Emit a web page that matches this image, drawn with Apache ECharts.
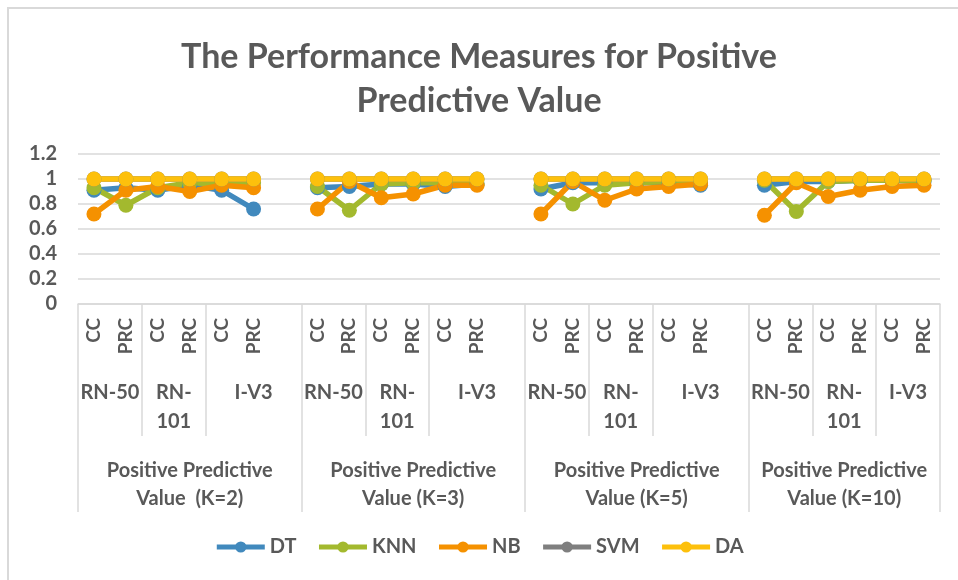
<!DOCTYPE html>
<html>
<head>
<meta charset="utf-8">
<script src="https://cdn.jsdelivr.net/npm/echarts@6/dist/echarts.min.js"></script>
<style>
  html, body { margin: 0; padding: 0; background: #fff; }
  #frame { position: absolute; left: 7px; top: 7px; width: 951px; height: 573px;
           border-left: 2px solid #d9d9d9; border-top: 2px solid #d9d9d9; }
  #chart { position: absolute; left: 0; top: 0; width: 958px; height: 580px; }
</style>
</head>
<body>
<div id="frame"></div>
<div id="chart"></div>
<script>
// bottom level: metric per slot, '' is the empty gap slot after each K block
var metrics = ['CC', 'PRC', 'CC', 'PRC', 'CC', 'PRC', '',
               'CC', 'PRC', 'CC', 'PRC', 'CC', 'PRC', '',
               'CC', 'PRC', 'CC', 'PRC', 'CC', 'PRC', '',
               'CC', 'PRC', 'CC', 'PRC', 'CC', 'PRC'];
// middle level: model spans [start, end] in slot index
var models = [
  ['RN-50', 0, 1], ['RN-\n101', 2, 3], ['I-V3', 4, 6],
  ['RN-50', 7, 8], ['RN-\n101', 9, 10], ['I-V3', 11, 13],
  ['RN-50', 14, 15], ['RN-\n101', 16, 17], ['I-V3', 18, 20],
  ['RN-50', 21, 22], ['RN-\n101', 23, 24], ['I-V3', 25, 26]
];
// top level: K blocks
var groups = [
  ['Positive Predictive\nValue  (K=2)', 0, 6],
  ['Positive Predictive\nValue (K=3)', 7, 13],
  ['Positive Predictive\nValue (K=5)', 14, 20],
  ['Positive Predictive\nValue (K=10)', 21, 26]
];

var dt  = [0.91, 0.93, 0.91, 0.95, 0.91, 0.76, null,
           0.93, 0.94, 0.96, 0.96, 0.94, 0.96, null,
           0.92, 0.97, 0.97, 0.97, 0.97, 0.95, null,
           0.95, 0.98, 0.98, 0.99, 0.99, 0.98];
var knn = [0.93, 0.79, 0.93, 0.97, 0.96, 0.97, null,
           0.94, 0.75, 0.96, 0.97, 0.97, 0.96, null,
           0.95, 0.80, 0.95, 0.97, 0.98, 0.97, null,
           0.99, 0.74, 0.98, 0.99, 0.99, 0.99];
var nb  = [0.72, 0.91, 0.94, 0.90, 0.95, 0.93, null,
           0.76, 0.98, 0.85, 0.88, 0.95, 0.95, null,
           0.72, 0.98, 0.83, 0.92, 0.94, 0.96, null,
           0.71, 0.97, 0.86, 0.91, 0.94, 0.95];
var svm = [1, 1, 1, 1, 1, 1, null,
           1, 1, 1, 1, 1, 1, null,
           1, 1, 1, 1, 1, 1, null,
           1, 1, 1, 1, 1, 1];
var da  = [1, 1, 1, 1, 1, 1, null,
           1, 1, 1, 1, 1, 1, null,
           1, 1, 1, 1, 1, 1, null,
           1, 1, 1, 1, 1, 1];

var seriesList = [
  ['DT', dt, '#4189bd'],
  ['KNN', knn, '#a3b92e'],
  ['NB', nb, '#f59100'],
  ['SVM', svm, '#7f7f7f'],
  ['DA', da, '#fdc00c']
];

var textColor = '#595959';
var lineColor = '#d9d9d9';
var font = 'Lato';

var modelLabels = {}, modelTicks = [];
models.forEach(function (m) {
  modelLabels[((m[1] + m[2]) / 2).toFixed(2)] = m[0];
  modelTicks.push(m[2] + 0.5);
});
var groupLabels = {}, groupTicks = [-0.5];
groups.forEach(function (g) {
  groupLabels[((g[1] + g[2]) / 2).toFixed(2)] = g[0];
  groupTicks.push(g[2] + 0.5);
});

var chart = echarts.init(document.getElementById('chart'));
chart.setOption({
  backgroundColor: 'transparent',
  animation: false,
  title: {
    text: 'The Performance Measures for Positive\nPredictive Value',
    left: 'center',
    top: 30,
    textStyle: { color: textColor, fontFamily: font, fontWeight: 'bold', fontSize: 34, lineHeight: 44 }
  },
  legend: {
    bottom: 18,
    left: 'center',
    itemWidth: 48,
    itemHeight: 14,
    itemGap: 20,
    lineStyle: { width: 5 },
    textStyle: { color: textColor, fontFamily: font, fontWeight: 'bold', fontSize: 20 },
    data: seriesList.map(function (s) { return s[0]; })
  },
  grid: { left: 78, right: 18, top: 154, height: 150, outerBoundsMode: 'none' },
  yAxis: {
    type: 'value', min: 0, max: 1.2, interval: 0.2,
    axisLine: { show: false }, axisTick: { show: false },
    splitLine: { lineStyle: { color: lineColor, width: 1.5 } },
    axisLabel: {
      color: textColor, fontFamily: font, fontWeight: 'bold', fontSize: 20, margin: 21,
      formatter: function (v) { return String(Math.round(v * 10) / 10); }
    }
  },
  xAxis: [
    {
      type: 'category', data: metrics, position: 'bottom',
      axisLine: { lineStyle: { color: lineColor, width: 1.5 } },
      axisTick: { show: false },
      axisLabel: { interval: 0, rotate: 90, margin: 14, color: textColor, fontFamily: font, fontWeight: 'bold', fontSize: 19 }
    },
    {
      type: 'value', min: -0.5, max: 26.5, position: 'bottom',
      axisLine: { show: false }, splitLine: { show: false },
      axisTick: { show: true, customValues: modelTicks, length: 132, lineStyle: { color: lineColor, width: 1.5 } },
      axisLabel: {
        customValues: Object.keys(modelLabels).map(Number), margin: 74, verticalAlign: 'top',
        color: textColor, fontFamily: font, fontWeight: 'bold', fontSize: 20, lineHeight: 29,
        formatter: function (v) { return modelLabels[v.toFixed(2)] || ''; }
      }
    },
    {
      type: 'value', min: -0.5, max: 26.5, position: 'bottom',
      axisLine: { show: false }, splitLine: { show: false },
      axisTick: { show: true, customValues: groupTicks, length: 208, lineStyle: { color: lineColor, width: 1.5 } },
      axisLabel: {
        customValues: Object.keys(groupLabels).map(Number), margin: 153, verticalAlign: 'top',
        color: textColor, fontFamily: font, fontWeight: 'bold', fontSize: 20, lineHeight: 28,
        formatter: function (v) { return groupLabels[v.toFixed(2)] || ''; }
      }
    }
  ],
  series: seriesList.map(function (s) {
    return {
      name: s[0], type: 'line', data: s[1], xAxisIndex: 0,
      connectNulls: false,
      symbol: 'circle', symbolSize: 15,
      itemStyle: { color: s[2] },
      lineStyle: { color: s[2], width: 5.5 }
    };
  })
});
</script>
</body>
</html>
